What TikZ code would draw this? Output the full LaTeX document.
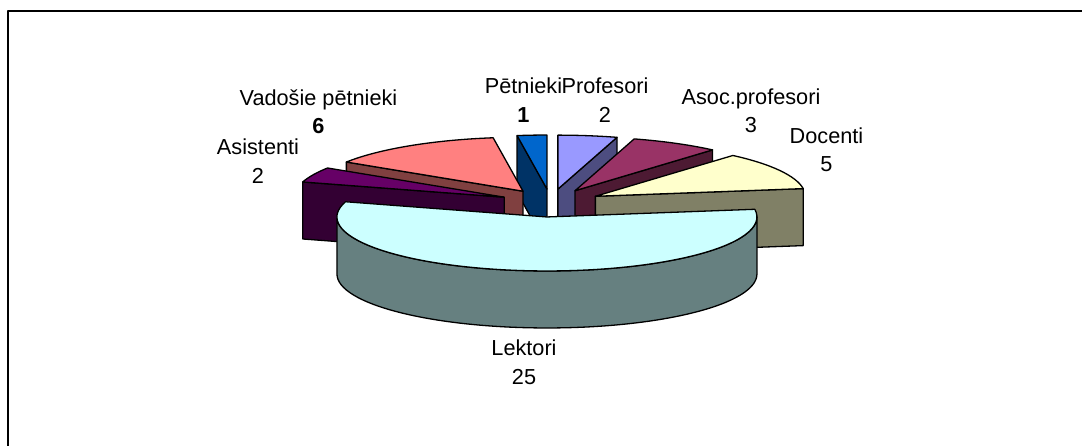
\documentclass[tikz,border=0pt]{standalone}
\usepackage{fontspec}
\setmainfont{Liberation Sans}
\usetikzlibrary{calc}
\definecolor{petTop}{HTML}{0066CC}\definecolor{petSide}{HTML}{003366}
\definecolor{profTop}{HTML}{9999FF}\definecolor{profSide}{HTML}{4D4D80}
\definecolor{asocTop}{HTML}{993366}\definecolor{asocSide}{HTML}{4D1A33}
\definecolor{docTop}{HTML}{FFFFCC}\definecolor{docSide}{HTML}{808066}
\definecolor{lekTop}{HTML}{CCFFFF}\definecolor{lekSide}{HTML}{668080}
\definecolor{asiTop}{HTML}{660066}\definecolor{asiSide}{HTML}{330033}
\definecolor{vadTop}{HTML}{FF8080}\definecolor{vadSide}{HTML}{804040}
\def\prx{210}\def\pry{54}\def\pD{57}\def\pex{51}\def\pey{14}
\newcommand\pieApex[2]{\coordinate (#1) at ($(C)+({\pex*cos(#2)},{\pey*sin(#2)})$);}
\newcommand\pieTop[4]{\filldraw[outl,fill=#4] (#1) -- ++({\prx*cos(#2)},{\pry*sin(#2)}) arc[start angle=#2,end angle=#3,x radius=\prx,y radius=\pry] -- cycle;}
\newcommand\pieRad[3]{\filldraw[outl,fill=#3] (#1) -- ++({\prx*cos(#2)},{\pry*sin(#2)}) -- ++(0,-\pD) -- ++({-\prx*cos(#2)},{-\pry*sin(#2)}) -- cycle;}
\begin{document}
\begin{tikzpicture}[x=1pt,y=1pt,line join=round,
  outl/.style={draw=black,line width=1.3pt},
  lbl/.style={font=\fontsize{21.7}{28.5}\selectfont,align=center,inner sep=0pt}]
\useasboundingbox (0,0) rectangle (1082,-446);
\draw[line width=2pt] (8,-446) -- (8,-11) -- (1082,-11);
\coordinate (C) at (550.6,-203);
\pieApex{Apet}{94.091}
\pieApex{Aprof}{81.818}
\pieApex{Aasoc}{61.364}
\pieApex{Adoc}{28.636}
\pieApex{Alek}{265.909}
\pieApex{Aasi}{155.455}
\pieApex{Avad}{122.727}
% Petnieki
\pieRad{Apet}{98.182}{petSide}
\pieTop{Apet}{90}{98.182}{petTop}
% Profesori
\pieRad{Aprof}{73.636}{profSide}
\pieTop{Aprof}{73.636}{90}{profTop}
% Asoc
\pieRad{Aasoc}{49.091}{asocSide}
\pieTop{Aasoc}{49.091}{73.636}{asocTop}
% Vadosie
\pieRad{Avad}{147.273}{vadSide}
\pieTop{Avad}{98.182}{147.273}{vadTop}
% Docenti
\pieRad{Adoc}{8.182}{docSide}
\pieTop{Adoc}{8.182}{49.091}{docTop}
% Asistenti
\pieRad{Aasi}{163.636}{asiSide}
\pieTop{Aasi}{147.273}{163.636}{asiTop}
% Lektori
\filldraw[outl,fill=lekSide] ($(Alek)+(-\prx,0)$) arc[start angle=180,end angle=360,x radius=\prx,y radius=\pry] -- ++(0,-\pD) arc[start angle=360,end angle=180,x radius=\prx,y radius=\pry] -- cycle;
\pieTop{Alek}{163.636}{368.182}{lekTop}
% labels
\node[lbl] (lvad) at (318.5,-111.5) {Vadošie pētnieki\\\textbf{6}};
\node[lbl] (lasi) at (258,-161) {Asistenti\\2};
\node[lbl] (lpet) at (523.5,-100) {Pētnieki\\\textbf{1}};
\node[lbl] (lprof) at (605,-100) {Profesori\\2};
\node[lbl] (lasoc) at (751,-110.5) {Asoc.profesori\\3};
\node[lbl] (ldoc) at (826.5,-149.5) {Docenti\\5};
\node[lbl] (llek) at (524,-362) {Lektori\\25};
\end{tikzpicture}
\end{document}
